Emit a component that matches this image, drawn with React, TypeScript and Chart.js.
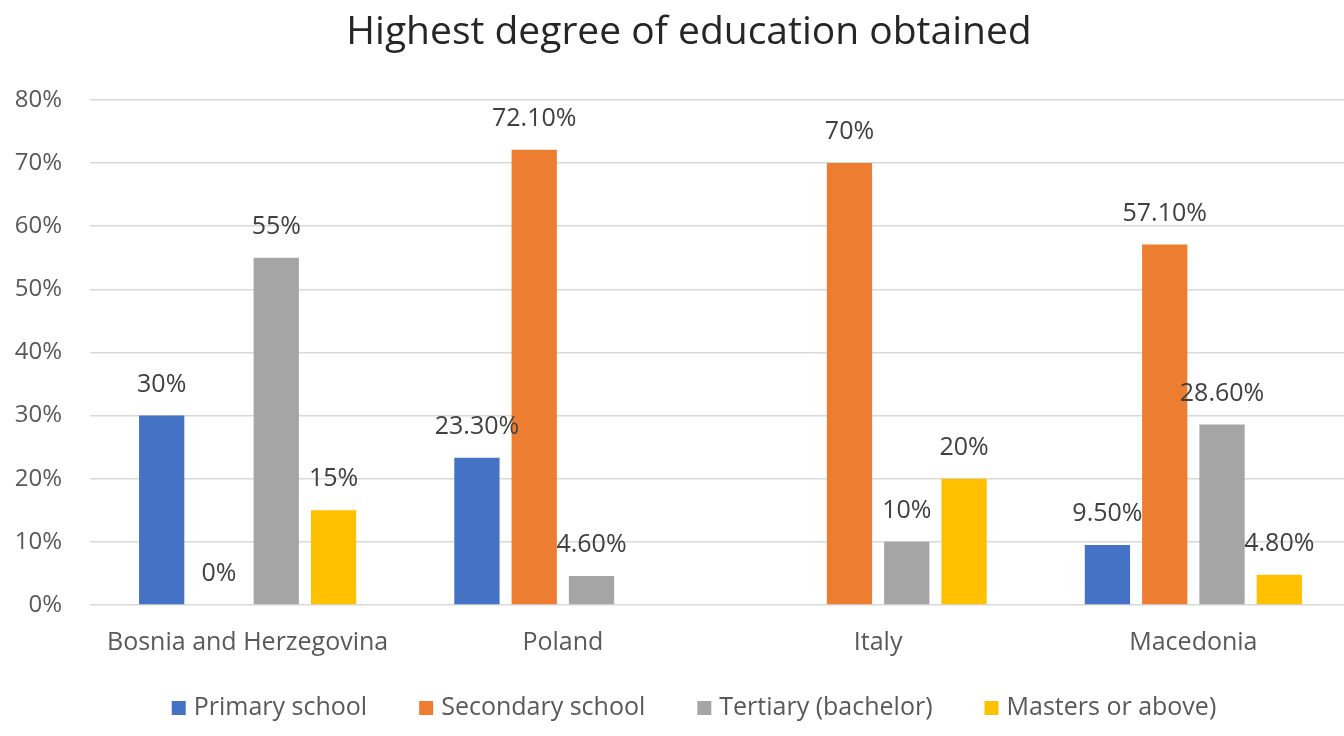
import React, { useEffect, useRef } from 'react';
import { Chart, registerables } from 'chart.js';

Chart.register(...registerables);

const titleText = 'Highest degree of education obtained';
const categories = ['Bosnia and Herzegovina', 'Poland', 'Italy', 'Macedonia'];
const seriesNames = ['Primary school', 'Secondary school', 'Tertiary (bachelor)', 'Masters or above)'];
const primarySchool: (number | null)[] = [30, 23.3, null, 9.5];
const secondarySchool: (number | null)[] = [0, 72.1, 70, 57.1];
const tertiaryBachelor: (number | null)[] = [55, 4.6, 10, 28.6];
const mastersOrAbove: (number | null)[] = [15, null, 20, 4.8];
const seriesColors = ['#4472C4', '#ED7D31', '#A5A5A5', '#FFC000'];
const yMin = 0;
const yMax = 80;
const yStep = 10;

const FONT = '"Open Sans", "Noto Sans", sans-serif';
const CANVAS_W = 1378;
const CANVAS_H = 736;

const fmt = (v: number) => (Number.isInteger(v) ? `${v}%` : `${v.toFixed(2)}%`);

const titleCenterPlugin = {
  id: 'titleCenter',
  afterLayout(chart: any) {
    const tb = chart.titleBlock;
    if (tb) {
      tb.left = 0;
      tb.right = chart.width;
      tb.width = chart.width;
    }
  },
};

const dataLabelPlugin = {
  id: 'dataLabels',
  afterDatasetsDraw(chart: any) {
    const ctx = chart.ctx;
    ctx.save();
    ctx.font = `25px ${FONT}`;
    ctx.fillStyle = '#404040';
    ctx.textAlign = 'center';
    ctx.textBaseline = 'middle';
    chart.data.datasets.forEach((ds: any, i: number) => {
      const meta = chart.getDatasetMeta(i);
      meta.data.forEach((bar: any, j: number) => {
        const v = ds.data[j];
        if (v === null || v === undefined) return;
        ctx.fillText(fmt(v), bar.x, bar.y - 31);
      });
    });
    ctx.restore();
  },
};

const customLegendPlugin = {
  id: 'customLegend',
  afterDraw(chart: any) {
    const ctx = chart.ctx;
    ctx.save();
    ctx.font = `25px ${FONT}`;
    const box = 14;
    const gapBoxText = 8;
    const itemGap = 52;
    const widths = chart.data.datasets.map((ds: any) => box + gapBoxText + ctx.measureText(ds.label).width);
    const total = widths.reduce((a: number, b: number) => a + b, 0) + itemGap * (widths.length - 1);
    let x = chart.width / 2 - total / 2 + 5;
    const y = 708;
    chart.data.datasets.forEach((ds: any, i: number) => {
      ctx.fillStyle = ds.backgroundColor;
      ctx.fillRect(x, y - box / 2, box, box);
      ctx.fillStyle = '#595959';
      ctx.textAlign = 'left';
      ctx.textBaseline = 'middle';
      ctx.fillText(ds.label, x + box + gapBoxText, y);
      x += widths[i] + itemGap;
    });
    ctx.restore();
  },
};

export default function App() {
  const canvasRef = useRef<HTMLCanvasElement | null>(null);

  useEffect(() => {
    if (!canvasRef.current) return;
    const seriesData = [primarySchool, secondarySchool, tertiaryBachelor, mastersOrAbove];
    const chart = new Chart(canvasRef.current, {
      type: 'bar',
      data: {
        labels: categories,
        datasets: seriesNames.map((name, i) => ({
          label: name,
          data: seriesData[i],
          backgroundColor: seriesColors[i],
          borderWidth: 0,
          categoryPercentage: 0.727,
          barPercentage: 0.79,
        })),
      },
      options: {
        responsive: false,
        animation: false,
        layout: { padding: { left: 0, right: 27, top: 0, bottom: 0 } },
        plugins: {
          legend: { display: false },
          tooltip: { enabled: false },
          title: {
            display: true,
            text: titleText,
            color: '#262626',
            font: { family: FONT, size: 39, weight: 'normal' as any },
            padding: { top: 9, bottom: 44 },
          },
        },
        scales: {
          x: {
            grid: { display: false },
            border: { display: false },
            ticks: {
              color: '#595959',
              font: { family: FONT, size: 25 },
              padding: 15,
              maxRotation: 0,
              autoSkip: false,
            },
            afterFit: (s: any) => {
              s.height = 131;
            },
          },
          y: {
            min: yMin,
            max: yMax,
            grid: { color: '#D9D9D9', lineWidth: 1.5, drawTicks: false },
            border: { display: false },
            ticks: {
              stepSize: yStep,
              color: '#595959',
              font: { family: FONT, size: 24 },
              padding: 28,
              callback: (v: any) => `${v}%`,
            },
            afterFit: (s: any) => {
              s.width = 90;
            },
          },
        },
      },
      plugins: [titleCenterPlugin, dataLabelPlugin, customLegendPlugin],
    });
    return () => chart.destroy();
  }, []);

  return (
    <div
      style={{
        position: 'fixed',
        left: 0,
        top: 0,
        width: 1344,
        height: 736,
        overflow: 'hidden',
        background: '#ffffff',
      }}
    >
      <canvas ref={canvasRef} width={CANVAS_W} height={CANVAS_H} style={{ display: 'block' }} />
    </div>
  );
}
